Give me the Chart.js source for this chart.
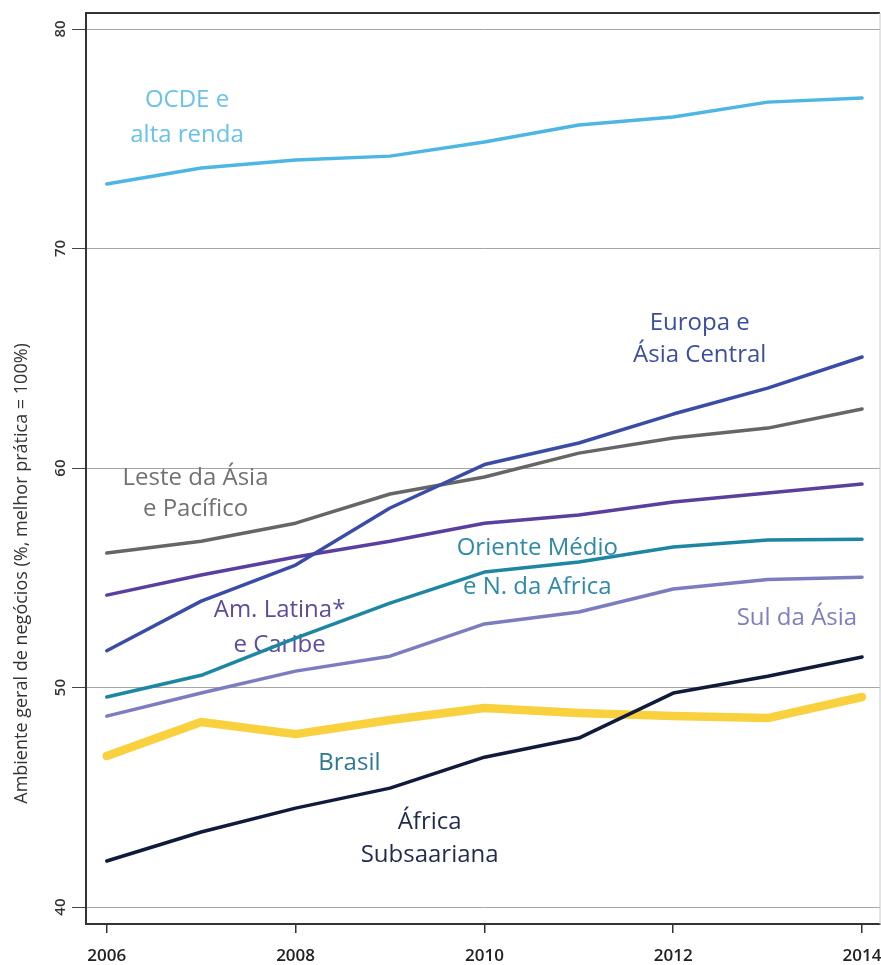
<!DOCTYPE html>
<html>
<head>
<meta charset="utf-8">
<script src="https://cdn.jsdelivr.net/npm/chart.js@4"></script>
<style>
  html, body { margin: 0; padding: 0; background: #fff; }
  canvas { display: block; }
</style>
</head>
<body>
<canvas id="chart" width="881" height="965"></canvas>
<script>
// years on the x axis and the ticks shown
const years = [2006, 2007, 2008, 2009, 2010, 2011, 2012, 2013, 2014];
const xTicks = [2006, 2008, 2010, 2012, 2014];
const yTicks = [40, 50, 60, 70, 80];

// series values (% of best practice)
const africaSub = [42.10, 43.42, 44.51, 45.42, 46.83, 47.70, 49.75, 50.52, 51.39];
const europaAsia = [51.68, 53.94, 55.58, 58.18, 60.16, 61.14, 62.46, 63.64, 65.06];
const lesteAsia = [56.13, 56.67, 57.49, 58.82, 59.59, 60.68, 61.37, 61.82, 62.69];
const amLatina = [54.21, 55.13, 55.95, 56.67, 57.49, 57.86, 58.45, 58.86, 59.27];
const orienteMedio = [49.57, 50.56, 52.25, 53.85, 55.26, 55.72, 56.40, 56.72, 56.76];
const sulAsia = [48.70, 49.75, 50.75, 51.43, 52.90, 53.44, 54.49, 54.92, 55.03];
const ocde = [72.94, 73.67, 74.03, 74.21, 74.85, 75.63, 75.99, 76.67, 76.86];
const brasil = [46.88, 48.43, 47.88, 48.52, 49.07, 48.84, 48.70, 48.61, 49.57];

// text labels placed in data coordinates (year, value)
const regionLabels = [
    { text: 'OCDE e', x: 2006.85, y: 76.77, color: '#6ac2e8' },
    { text: 'alta renda', x: 2006.85, y: 75.17, color: '#6ac2e8' },
    { text: 'Europa e', x: 2012.28, y: 66.61, color: '#3d4f9c' },
    { text: 'Ásia Central', x: 2012.28, y: 65.15, color: '#3d4f9c' },
    { text: 'Leste da Ásia', x: 2006.94, y: 59.54, color: '#717171' },
    { text: 'e Pacífico', x: 2006.94, y: 58.13, color: '#717171' },
    { text: 'Oriente Médio', x: 2010.56, y: 56.36, color: '#2e8aa8' },
    { text: 'e N. da Africa', x: 2010.56, y: 54.58, color: '#2e8aa8' },
    { text: 'Am. Latina*', x: 2007.83, y: 53.53, color: '#5e4ba0' },
    { text: 'e Caribe', x: 2007.83, y: 51.94, color: '#5e4ba0' },
    { text: 'Sul da Ásia', x: 2013.31, y: 53.17, color: '#7d7fbe' },
    { text: 'Brasil', x: 2008.57, y: 46.56, color: '#2c7894' },
    { text: 'África', x: 2009.42, y: 43.87, color: '#1e2b4a' },
    { text: 'Subsaariana', x: 2009.42, y: 42.37, color: '#1e2b4a' }
];

const yTitle = 'Ambiente geral de negócios (%, melhor prática = 100%)';

const toPoints = vals => years.map((yr, i) => ({ x: yr, y: vals[i] }));

const line = (label, vals, color, width) => ({
    label,
    data: toPoints(vals),
    borderColor: color,
    backgroundColor: color,
    borderWidth: width,
    pointRadius: 0,
    tension: 0,
    borderJoinStyle: 'round',
    borderCapStyle: 'round',
    fill: false
});

// region labels, rotated y tick labels + title, top/right frame
const extrasPlugin = {
    id: 'extras',
    beforeDatasetsDraw(chart) {
        const { ctx, scales: { x, y } } = chart;
        ctx.save();
        ctx.font = '24px "Open Sans"';
        ctx.textAlign = 'center';
        ctx.textBaseline = 'middle';
        regionLabels.forEach(l => {
            ctx.fillStyle = l.color;
            ctx.fillText(l.text, x.getPixelForValue(l.x), y.getPixelForValue(l.y));
        });
        ctx.restore();
    },
    afterDraw(chart) {
        const { ctx, chartArea: a, scales: { y } } = chart;
        ctx.save();
        // top and right edges of the frame
        ctx.strokeStyle = '#333';
        ctx.lineWidth = 2;
        ctx.beginPath();
        ctx.moveTo(a.left, a.top);
        ctx.lineTo(a.right, a.top);
        ctx.stroke();
        ctx.strokeStyle = '#c8c8c8';
        ctx.lineWidth = 1;
        ctx.beginPath();
        ctx.moveTo(a.right, a.top);
        ctx.lineTo(a.right, a.bottom);
        ctx.stroke();

        // y tick labels read bottom-to-top
        ctx.fillStyle = '#333';
        ctx.font = '600 15px "Open Sans"';
        ctx.textAlign = 'center';
        ctx.textBaseline = 'middle';
        y.ticks.forEach(t => {
            ctx.save();
            ctx.translate(a.left - 25, y.getPixelForValue(t.value));
            ctx.rotate(-Math.PI / 2);
            ctx.fillText(String(t.value), 0, 0);
            ctx.restore();
        });

        // y axis title, sitting a bit below the middle like the original
        ctx.translate(22, y.getPixelForValue(55.2));
        ctx.rotate(-Math.PI / 2);
        ctx.font = '18px "Open Sans"';
        ctx.fillStyle = '#333';
        ctx.fillText(yTitle, 0, 0);
        ctx.restore();
    }
};

new Chart(document.getElementById('chart').getContext('2d'), {
    type: 'line',
    data: {
        datasets: [
            line('África Subsaariana', africaSub, '#101a3a', 3.5),
            line('Europa e Ásia Central', europaAsia, '#3a4ca6', 3.5),
            line('Leste da Ásia e Pacífico', lesteAsia, '#666666', 3.5),
            line('Am. Latina e Caribe', amLatina, '#5a3f9e', 3.5),
            line('Oriente Médio e N. da Africa', orienteMedio, '#1d86a3', 3.5),
            line('Sul da Ásia', sulAsia, '#7b7dc0', 3.5),
            line('OCDE e alta renda', ocde, '#4eb6e2', 3.5),
            line('Brasil', brasil, '#f9d03e', 8.5)
        ]
    },
    options: {
        responsive: false,
        animation: false,
        layout: { padding: { top: 13, right: 1, left: 0, bottom: 0 } },
        plugins: {
            legend: { display: false },
            tooltip: { enabled: false }
        },
        scales: {
            x: {
                type: 'linear',
                min: 2005.78,
                max: 2014.19,
                afterBuildTicks: s => { s.ticks = xTicks.map(v => ({ value: v })); },
                afterFit: s => {
                    s.height = 41;
                    s.paddingLeft = 0;
                    s.paddingRight = 0;
                },
                grid: { drawOnChartArea: false, drawTicks: true, tickLength: 9, tickColor: '#333', lineWidth: 1.5 },
                border: { display: true, color: '#333', width: 2 },
                ticks: {
                    padding: 13,
                    color: '#222',
                    font: { family: 'Open Sans', size: 17, weight: '600' },
                    callback: v => String(v),
                    maxRotation: 0
                }
            },
            y: {
                min: 39.23,
                max: 80.73,
                afterBuildTicks: s => { s.ticks = yTicks.map(v => ({ value: v })); },
                afterFit: s => {
                    s.width = 86;
                    s.paddingTop = 0;
                    s.paddingBottom = 0;
                },
                grid: { color: '#a5a5a5', lineWidth: 1, tickLength: 14, tickColor: '#444' },
                border: { display: true, color: '#333', width: 2 },
                ticks: { display: false }
            }
        }
    },
    plugins: [extrasPlugin]
});
</script>
</body>
</html>
